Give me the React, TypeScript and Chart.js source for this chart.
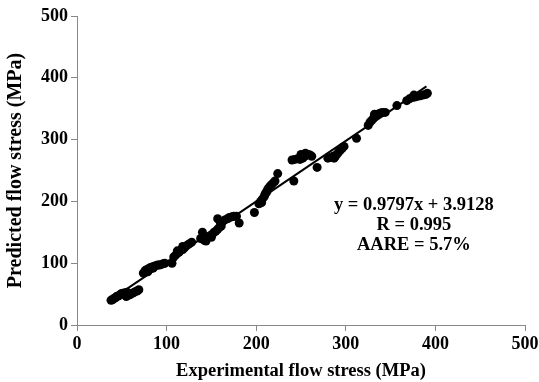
import React, { useEffect, useRef } from "react";
import { Chart, registerables } from "chart.js";

Chart.register(...registerables);

const expX = [
  38, 40, 41, 43, 44, 46, 47, 49, 50, 52, 55, 57, 59, 61, 63, 65, 67, 69, 53, 56,
  74, 76, 78, 80, 82, 84, 86, 88, 90, 92, 94, 96, 98, 79, 85,
  106,
  108, 110, 112, 114, 116, 118, 120, 122, 124, 126, 128, 112, 118,
  138, 140, 142, 145, 147, 149, 151, 153, 155, 157, 159, 161, 144, 150,
  157, 160, 163, 165, 168, 170, 173, 175, 178,
  181, 198,
  203, 205, 207, 209, 210, 212, 213, 215, 217, 219, 221, 206, 211,
  224, 242,
  240, 243, 246, 249, 252, 254, 256, 258, 260, 262, 250, 255,
  268,
  280, 283, 286, 288, 290, 292, 294, 296, 298, 287,
  312,
  325, 327, 329, 331, 333, 335, 337, 339, 341, 344, 332,
  357,
  368, 371, 374, 377, 380, 383, 386, 389, 391, 376,
];

const predY = [
  40, 41, 43, 44, 46, 47, 48, 50, 51, 50, 46, 48, 49, 51, 52, 54, 55, 57, 52, 53,
  84, 88, 90, 91, 93, 94, 95, 96, 97, 97, 98, 99, 100, 86, 92,
  100,
  110, 113, 116, 118, 121, 122, 125, 128, 130, 132, 134, 120, 127,
  140, 150, 137, 141, 143, 145, 147, 150, 152, 155, 158, 160, 136, 142,
  172, 166, 168, 170, 172, 174, 175, 176, 176,
  165, 182,
  196, 200, 204, 208, 212, 216, 220, 224, 227, 230, 233, 198, 214,
  245, 233,
  267, 268, 269, 268, 270, 273, 275, 276, 275, 273, 276, 278,
  255,
  270, 271, 273, 272, 276, 280, 283, 286, 289, 270,
  302,
  323, 328, 331, 335, 338, 340, 342, 343, 344, 344, 341,
  355,
  363, 366, 368, 369, 370, 371, 372, 373, 375, 372,
];

const fitX = [40, 390];
const fitY = [43, 386];

const xTicks = [0, 100, 200, 300, 400, 500];
const yTicks = [0, 100, 200, 300, 400, 500];

const annotationLines = ["y = 0.9797x + 3.9128", "R = 0.995", "AARE = 5.7%"];
const annotationAnchor = { x: 376, y: 194 };

const FONT = "'Times New Roman', 'Liberation Serif', serif";

export default function App() {
  const ref = useRef<HTMLCanvasElement | null>(null);

  useEffect(() => {
    document.body.style.margin = "0";
    const canvas = ref.current;
    if (!canvas) return;

    const annotationPlugin = {
      id: "annot",
      afterDraw(chart: any) {
        const ctx = chart.ctx;
        const xs = chart.scales.x;
        const ys = chart.scales.y;
        const cx = xs.getPixelForValue(annotationAnchor.x);
        const cy = ys.getPixelForValue(annotationAnchor.y);
        ctx.save();
        ctx.fillStyle = "#000";
        ctx.font = `bold 18.5px ${FONT}`;
        ctx.textAlign = "center";
        ctx.textBaseline = "middle";
        annotationLines.forEach((t, i) => {
          ctx.fillText(t, cx, cy + i * 20);
        });
        ctx.restore();
      },
    };

    const chart = new Chart(canvas, {
      type: "scatter",
      data: {
        datasets: [
          {
            type: "scatter",
            data: expX.map((x, i) => ({ x, y: predY[i] })),
            backgroundColor: "#000",
            borderColor: "#000",
            borderWidth: 0,
            pointRadius: 4.5,
            order: 2,
          },
          {
            type: "line",
            data: fitX.map((x, i) => ({ x, y: fitY[i] })),
            borderColor: "#000",
            borderWidth: 2,
            pointRadius: 0,
            fill: false,
            order: 1,
          } as any,
        ],
      },
      options: {
        animation: false,
        responsive: false,
        maintainAspectRatio: false,
        layout: { padding: { top: 16, right: 14, left: 0, bottom: 0 } },
        plugins: {
          legend: { display: false },
          tooltip: { enabled: false },
        },
        scales: {
          x: {
            type: "linear",
            min: 0,
            max: 500,
            afterBuildTicks: (s: any) => {
              s.ticks = xTicks.map((v) => ({ value: v }));
            },
            afterFit: (s: any) => {
              s.height = 57;
              s.paddingLeft = 0;
              s.paddingRight = 0;
            },
            ticks: {
              color: "#000",
              font: { family: FONT, size: 18, weight: "bold" },
              padding: 3,
              maxRotation: 0,
            },
            grid: {
              display: true,
              drawOnChartArea: false,
              drawTicks: true,
              tickLength: 6,
              color: "#888",
            },
            border: { display: true, color: "#888", width: 1 },
            title: {
              display: true,
              text: "Experimental flow stress (MPa)",
              color: "#000",
              font: { family: FONT, size: 18.5, weight: "bold" },
              padding: { top: 0, bottom: 0 },
            },
          },
          y: {
            type: "linear",
            min: 0,
            max: 500,
            afterBuildTicks: (s: any) => {
              s.ticks = yTicks.map((v) => ({ value: v }));
            },
            afterFit: (s: any) => {
              s.width = 77;
              s.paddingTop = 0;
              s.paddingBottom = 0;
            },
            ticks: {
              color: "#000",
              font: { family: FONT, size: 18, weight: "bold" },
              padding: 3,
            },
            grid: {
              display: true,
              drawOnChartArea: false,
              drawTicks: true,
              tickLength: 6,
              color: "#888",
            },
            border: { display: true, color: "#888", width: 1 },
            title: {
              display: true,
              text: "Predicted flow stress (MPa)",
              color: "#000",
              font: { family: FONT, size: 20, weight: "bold" },
              padding: { top: 4, bottom: 0 },
            },
          },
        },
      },
      plugins: [annotationPlugin],
    });

    return () => chart.destroy();
  }, []);

  return (
    <div style={{ width: 539, height: 382 }}>
      <canvas ref={ref} width={539} height={382} style={{ width: 539, height: 382 }} />
    </div>
  );
}
